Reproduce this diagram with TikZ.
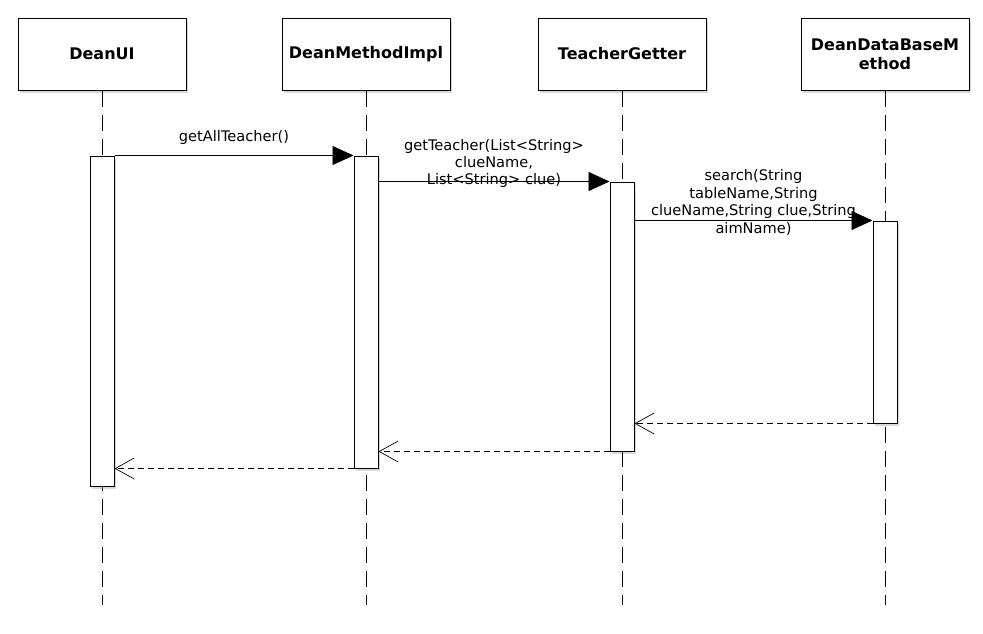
\documentclass[tikz,border=0pt]{standalone}
\usepackage{fontspec}
\setmainfont{DejaVu Sans}
\usepackage{tikz}
\usetikzlibrary{arrows.meta, positioning, shadows, calc}
\tikzstyle{head} = [rectangle, minimum width=168pt, minimum height=72pt, inner sep=2pt, align=center, text width=164pt, draw=black, line width=1pt, fill=white, font=\fontsize{16}{19}\selectfont\bfseries, drop shadow={opacity=0.3, shadow xshift=2pt, shadow yshift=-2.5pt}]
\tikzstyle{activation} = [rectangle, minimum width=24pt, inner sep=0pt, draw=black, line width=1pt, fill=white, drop shadow={opacity=0.3, shadow xshift=2pt, shadow yshift=-2.5pt}]
\tikzstyle{lifeline} = [line width=0.8pt, dash pattern=on 16pt off 8pt]
\tikzstyle{call} = [line width=0.9pt, -{Triangle[length=21pt, width=19pt]}]
\tikzstyle{reply} = [line width=0.9pt, dash pattern=on 6pt off 4pt, -{Straight Barb[length=19pt, width=21pt, line width=0.7pt]}]
\tikzstyle{msglabel} = [midway, yshift=18pt, align=center, inner sep=0pt, font=\fontsize{14.6}{17.4}\selectfont]

\begin{document}
\begin{tikzpicture}[x=1pt, y=-1pt]
    \useasboundingbox (0,0) rectangle (983,633);
    % Objects
    \node[head] (ui) at (102,54) {DeanUI};
    \node[head] (impl) at (366,54) {DeanMethodImpl};
    \node[head] (getter) at (622,54) {TeacherGetter};
    \node[head] (db) at (885,54) {DeanDataBaseM\\ethod};

    % Lifelines
    \coordinate (uiend) at (102,605);
    \coordinate (implend) at (366,605);
    \coordinate (getterend) at (622,605);
    \coordinate (dbend) at (885,605);
    \draw[lifeline] (ui.south) -- (uiend);
    \draw[lifeline] (impl.south) -- (implend);
    \draw[lifeline] (getter.south) -- (getterend);
    \draw[lifeline] (db.south) -- (dbend);

    % Activations
    \node[activation, minimum height=330pt] (uiact) at (102,321) {};
    \node[activation, minimum height=312pt] (implact) at (366,312) {};
    \node[activation, minimum height=269pt] (getteract) at (622,316.5) {};
    \node[activation, minimum height=202pt] (dbact) at (885,322) {};

    % Calls
    \draw[call] (uiact.north east) -- node[msglabel] {getAllTeacher()} (implact.north west);
    \draw[call] (implact.east |- getteract.north) -- node[msglabel] {getTeacher(List<String>\\
        clueName,\\
        List<String> clue)} (getteract.north west);
    \draw[call] (getteract.east |- dbact.north) -- node[msglabel] {search(String\\
        tableName,String\\
        clueName,String clue,String\\
        aimName)} (dbact.north west);

    % Replies
    \draw[reply] (dbact.south west) -- (getteract.east |- dbact.south);
    \draw[reply] (getteract.south west) -- (implact.east |- getteract.south);
    \draw[reply] (implact.south west) -- (uiact.east |- implact.south);

\end{tikzpicture}
\end{document}
